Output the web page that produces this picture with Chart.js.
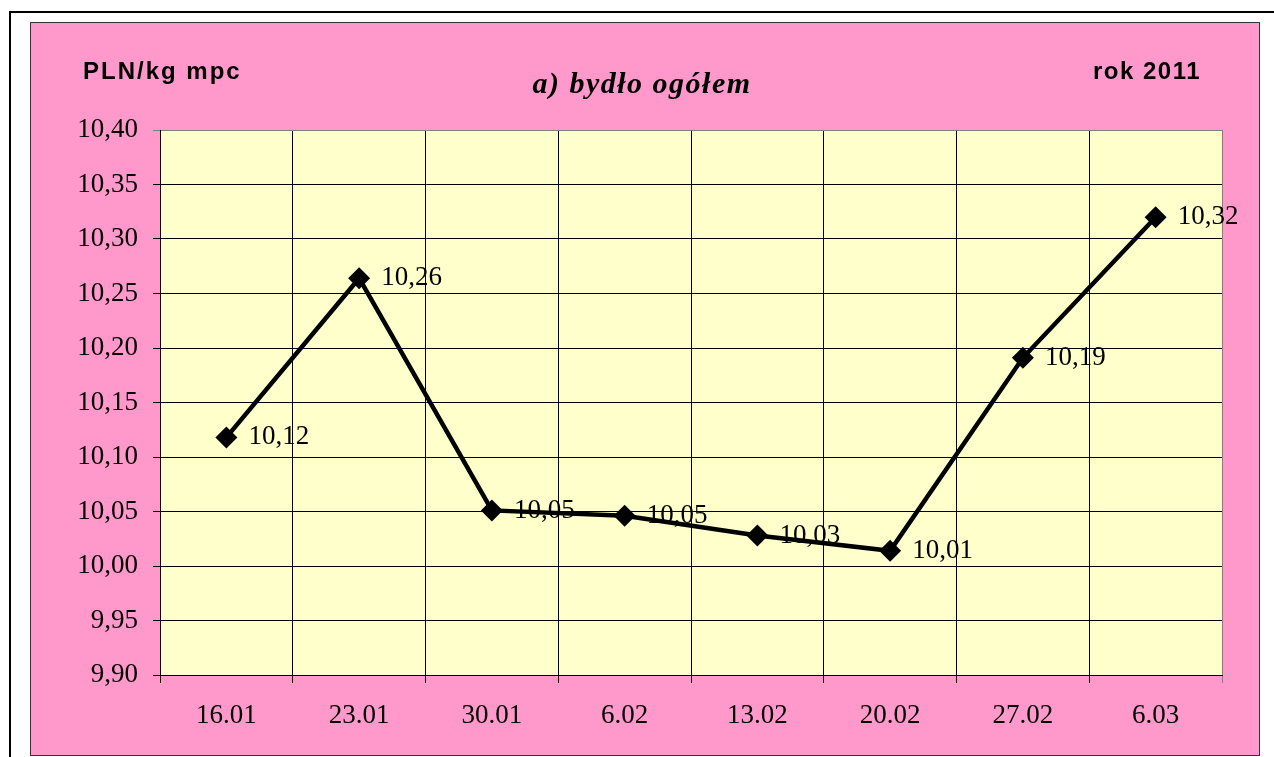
<!DOCTYPE html>
<html>
<head>
<meta charset="utf-8">
<script src="https://cdn.jsdelivr.net/npm/chart.js@4"></script>
<style>
  html, body { margin: 0; padding: 0; background: #fff; width: 1274px; height: 757px; overflow: hidden; }
  #frame { position: absolute; left: 9px; top: 11px; right: 0; bottom: 0; border-left: 2px solid #000; border-top: 2px solid #000; }
  #box { position: absolute; left: 30px; top: 22px; width: 1228px; height: 732px; border: 1px solid #333; background: #ff99cc; }
  #box canvas { display: block; }
</style>
</head>
<body>
<div id="frame"></div>
<div id="box"><canvas id="chart" width="1228" height="732"></canvas></div>
<script>
// dane
const weeks = ['16.01', '23.01', '30.01', '6.02', '13.02', '20.02', '27.02', '6.03'];
const prices = [10.118, 10.264, 10.051, 10.046, 10.028, 10.014, 10.191, 10.32];
const yMin = 9.90;
const yMax = 10.40;
const yStep = 0.05;

const unitText = 'PLN/kg mpc';
const titleText = 'a) bydło ogółem';
const yearText = 'rok 2011';

const fmt = v => v.toFixed(2).replace('.', ',');
const serif = '"Liberation Serif", "Times New Roman", serif';

// tło obszaru wykresu + napisy
const decor = {
    id: 'decor',
    beforeDraw(chart) {
        const { ctx, chartArea: a } = chart;
        ctx.save();
        ctx.fillStyle = '#ffffcc';
        ctx.fillRect(a.left, a.top, a.right - a.left, a.bottom - a.top);
        ctx.restore();
    },
    afterDraw(chart) {
        const ctx = chart.ctx;
        ctx.save();
        ctx.fillStyle = '#000';
        ctx.textBaseline = 'alphabetic';
        ctx.font = 'bold 24px "Liberation Sans", Arial, sans-serif';
        ctx.letterSpacing = '2px';
        ctx.textAlign = 'left';
        ctx.fillText(unitText, 52, 56);
        ctx.letterSpacing = '1.5px';
        ctx.textAlign = 'right';
        ctx.fillText(yearText, 1170, 56);
        ctx.font = 'italic bold 30px ' + serif;
        ctx.letterSpacing = '1.5px';
        ctx.textAlign = 'center';
        ctx.fillText(titleText, 611, 70);
        ctx.restore();
    }
};

// etykiety wartości obok punktów
const valueLabels = {
    id: 'valueLabels',
    afterDatasetsDraw(chart) {
        const ctx = chart.ctx;
        const meta = chart.getDatasetMeta(0);
        ctx.save();
        ctx.font = '27px ' + serif;
        ctx.fillStyle = '#000';
        ctx.textAlign = 'left';
        ctx.textBaseline = 'middle';
        meta.data.forEach((pt, i) => {
            ctx.fillText(fmt(prices[i]), pt.x + 22, pt.y);
        });
        ctx.restore();
    }
};

new Chart(document.getElementById('chart').getContext('2d'), {
    type: 'line',
    data: {
        labels: weeks,
        datasets: [{
            data: prices,
            borderColor: '#000',
            borderWidth: 4.5,
            backgroundColor: '#000',
            pointStyle: 'rectRot',
            pointRadius: 11,
            pointBorderWidth: 0,
            tension: 0,
        }],
    },
    options: {
        responsive: false, animation: false, devicePixelRatio: 1,
        layout: { padding: { left: 0, top: 107, right: 37, bottom: 20 } },
        plugins: { legend: { display: false }, tooltip: { enabled: false } },
        scales: {
            x: {
                offset: true,
                grid: {
                    offset: true, tickLength: 8, lineWidth: 1,
                    color: c => c.type === 'tick' ? '#000' : '#808080',
                },
                border: { color: '#000', width: 1 },
                ticks: { color: '#000', font: { family: serif, size: 27 }, padding: 17, maxRotation: 0 },
                afterFit: s => { s.height = 60; },
            },
            y: {
                min: yMin, max: yMax,
                grid: {
                    tickLength: 7, lineWidth: 1,
                    color: c => (c.tick && Math.abs(c.tick.value - yMax) < 1e-6) ? '#808080' : '#000',
                },
                border: { color: '#000', width: 1 },
                ticks: {
                    stepSize: yStep, color: '#000', padding: 15,
                    font: { family: serif, size: 27 },
                    callback: v => fmt(v),
                },
                afterFit: s => { s.width = 129; },
            },
        },
    },
    plugins: [decor, valueLabels],
});
</script>
</body>
</html>
